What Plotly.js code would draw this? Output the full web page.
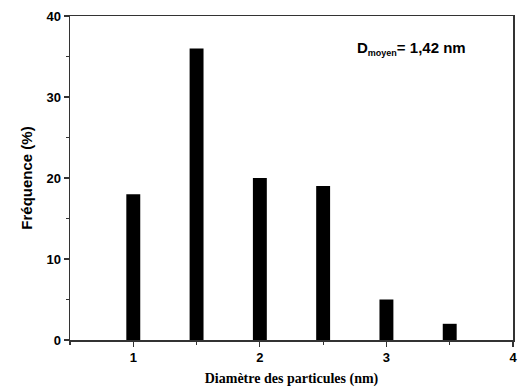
<!DOCTYPE html>
<html><head><meta charset="utf-8">
<script src="https://cdn.plot.ly/plotly-3.0.1.min.js"></script>
<style>html,body{margin:0;padding:0;background:#fff}#chart{width:524px;height:390px}</style>
</head><body><div id="chart"></div>
<script>
const diameters = [1, 1.5, 2, 2.5, 3, 3.5];
const frequencies = [18, 36, 20, 19, 5, 2];
const xTickVals = [1, 2, 3, 4];
const yTickVals = [0, 10, 20, 30, 40];

const trace = {
  type: 'bar', x: diameters, y: frequencies, width: 0.11,
  marker: {color: '#000', line: {width: 0}}, hoverinfo: 'x+y'
};
const layout = {
  width: 524, height: 390,
  margin: {l: 70, r: 11, t: 16, b: 50},
  paper_bgcolor: '#fff', plot_bgcolor: '#fff',
  showlegend: false,
  font: {family: 'Liberation Sans, Arial, sans-serif', color: '#000'},
  xaxis: {
    range: [0.5, 4], tickvals: xTickVals, ticktext: xTickVals.map(String),
    ticks: 'outside', ticklen: 5, tickwidth: 1.2, tickcolor: '#333',
    showgrid: false, zeroline: false, showline: true, linecolor: '#333', linewidth: 1.5, mirror: true,
    tickfont: {family: 'Liberation Sans, Arial', size: 13, weight: 'bold'},
    minor: {dtick: 0.5, tick0: 0.5, ticks: 'outside', ticklen: 3, tickcolor: '#333', showgrid: false},
    title: {text: 'Diamètre des particules (nm)', standoff: 9,
      font: {family: 'Liberation Serif, Times New Roman, serif', size: 14, weight: 'bold'}}
  },
  yaxis: {
    range: [0, 40], tickvals: yTickVals,
    ticks: 'outside', ticklen: 5, tickwidth: 1.2, tickcolor: '#333',
    showgrid: false, zeroline: false, showline: true, linecolor: '#333', linewidth: 1.5, mirror: true,
    tickfont: {family: 'Liberation Sans, Arial', size: 13, weight: 'bold'},
    minor: {dtick: 5, tick0: 5, ticks: 'outside', ticklen: 3, tickcolor: '#333', showgrid: false},
    title: {text: 'Fréquence (%)', standoff: 10,
      font: {family: 'Liberation Sans, Arial', size: 15, weight: 'bold'}}
  },
  annotations: [{
    xref: 'paper', yref: 'paper', x: 0.77, y: 0.9, xanchor: 'center', yanchor: 'middle',
    showarrow: false, text: 'D<sub><span style="font-size:9px">moyen</span></sub>= 1,42 nm',
    font: {family: 'Liberation Sans, Arial', size: 15, weight: 'bold', color: '#000'}
  }]
};
Plotly.newPlot('chart', [trace], layout, {displayModeBar: false, staticPlot: true});
</script></body></html>
